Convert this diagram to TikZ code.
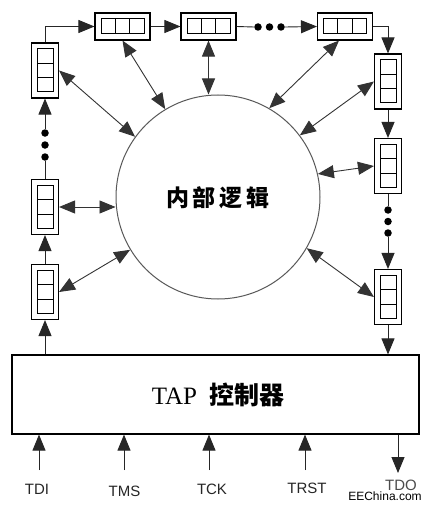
\documentclass[tikz,border=0pt]{standalone}
\usepackage{fontspec}
\setmainfont{Liberation Serif}
\newfontfamily\cjk{Noto Sans CJK SC}
\newfontfamily\lsans{Liberation Sans}
\usetikzlibrary{arrows.meta,calc}
\tikzset{
  box/.style={draw, line width=1.1pt, inner sep=0pt},
  hcell/.style={box, minimum width=55pt, minimum height=27pt},
  vcell/.style={box, minimum width=27pt, minimum height=55pt},
  tip/.tip={Triangle[length=16pt,width=13pt]},
  link/.style={line width=0.9pt, draw=black!85, -tip},
  plain/.style={line width=0.9pt, draw=black!85},
  both/.style={line width=0.9pt, draw=black!80, tip-tip},
  dotn/.style={circle, fill=black, inner sep=0pt, minimum size=7.5pt},
  sig/.style={font=\lsans\fontsize{15}{15}\selectfont, text=black!85, inner sep=0pt},
  cellin/.style={line width=1pt},
}
\newcommand\hinner[1]{%
  \draw[cellin] ($(#1.center)+(-21.5,-7.5)$) rectangle ($(#1.center)+(21.5,7.5)$);
  \draw[cellin] ($(#1.center)+(-7.2,-7.5)$) -- ($(#1.center)+(-7.2,7.5)$);
  \draw[cellin] ($(#1.center)+(7.2,-7.5)$) -- ($(#1.center)+(7.2,7.5)$);}
\newcommand\vinner[1]{%
  \draw[cellin] ($(#1.center)+(-8,-21.5)$) rectangle ($(#1.center)+(8,21.5)$);
  \draw[cellin] ($(#1.center)+(-8,-7.2)$) -- ($(#1.center)+(8,-7.2)$);
  \draw[cellin] ($(#1.center)+(-8,7.2)$) -- ($(#1.center)+(8,7.2)$);}
\begin{document}
\begin{tikzpicture}[x=1pt,y=-1pt]
\useasboundingbox[fill=white] (0,0) rectangle (428,508);

% logic circle
\node[circle, draw=black!65, line width=1pt, minimum size=204pt, inner sep=0pt] (circ) at (218,197) {};
\node[font=\cjk\bfseries\fontsize{23}{23}\selectfont] (logic) at (218,198) {内\hspace{4pt}部\hspace{4pt}逻\hspace{4pt}辑};

% TAP controller
\node[box, line width=1.2pt, minimum width=407pt, minimum height=79pt] (tap) at (215.5,394.5) {};
\node[font=\fontsize{25}{25}\selectfont] (taptext) at (218,395) {TAP\hspace{12pt}{\cjk\bfseries 控制器}};

% cells
\node[vcell] (L1) at (45,70.5) {};
\node[vcell] (L2) at (45,207) {};
\node[vcell] (L3) at (45,292) {};
\node[hcell] (T1) at (122.5,26.5) {};
\node[hcell] (T2) at (208.5,26.5) {};
\node[hcell] (T3) at (345,26.5) {};
\node[vcell] (R1) at (388,81.5) {};
\node[vcell] (R2) at (388,166) {};
\node[vcell] (R3) at (388,297) {};
\vinner{L1}\vinner{L2}\vinner{L3}
\hinner{T1}\hinner{T2}\hinner{T3}
\vinner{R1}\vinner{R2}\vinner{R3}

% dots
\node[dotn] (dt1) at (258,27) {};
\node[dotn] (dt2) at (269.5,27) {};
\node[dotn] (dt3) at (281,27) {};
\node[dotn] (dr1) at (388,210) {};
\node[dotn] (dr2) at (388,221.5) {};
\node[dotn] (dr3) at (388,233) {};
\node[dotn] (dl1) at (45,133) {};
\node[dotn] (dl2) at (45,145) {};
\node[dotn] (dl3) at (45,157) {};

% scan chain
\draw[link] (L1.north) |- (T1.west);
\draw[link] (T1.east) -- (T2.west);
\draw[plain] (T2.east) -- (dt1.west);
\draw[link] (dt3.east) -- (T3.west);
\draw[link] (T3.east) -| (R1.north);
\draw[link] (R1.south) -- (R2.north);
\draw[plain] (R2.south) -- (dr1.north);
\draw[link] (dr3.south) -- (R3.north);
\draw[link] (R3.south) -- (R3.south |- tap.north);
\draw[link] (L3.south |- tap.north) -- (L3.south);
\draw[link] (L3.north) -- (L2.south);
\draw[plain] (L2.north) -- (dl3.south);
\draw[link] (dl1.north) -- (L1.south);

% connections to internal logic
\draw[both] (L1.east) -- (circ.144);
\draw[both] (T1.south) -- (circ.121);
\draw[both] (T2.south) -- (T2.south |- circ.north);
\draw[both] ([xshift=-6pt]T3.south) -- (circ.60.5);
\draw[both] (R1.west) -- (circ.37);
\draw[both] (R2.west) -- (circ.13.4);
\draw[both] (circ.-30.2) -- (R3.west);
\draw[both] (L2.east) -- (L2.east -| circ.west);
\draw[both] (L3.east) -- (circ.211);

% signals
\coordinate (cTDI) at (39,470);
\coordinate (cTMS) at (124,470);
\coordinate (cTCK) at (209,470);
\coordinate (cTRST) at (305,470);
\coordinate (cTDO) at (398,473);
\draw[link] (cTDI) -- (cTDI |- tap.south);
\draw[link] (cTMS) -- (cTMS |- tap.south);
\draw[link] (cTCK) -- (cTCK |- tap.south);
\draw[link] (cTRST) -- (cTRST |- tap.south);
\draw[link] (cTDO |- tap.south) -- (cTDO);
\node[sig] (lTDI) at (37,489) {TDI};
\node[sig] (lTMS) at (124.5,491) {TMS};
\node[sig] (lTCK) at (212,489) {TCK};
\node[sig] (lTRST) at (307,488) {TRST};
\node[sig, text=black!70] (lTDO) at (401,485) {TDO};
\node[font=\lsans\fontsize{12}{12}\selectfont, inner sep=0pt] (wm) at (385,496) {EEChina.com};
\end{tikzpicture}
\end{document}
